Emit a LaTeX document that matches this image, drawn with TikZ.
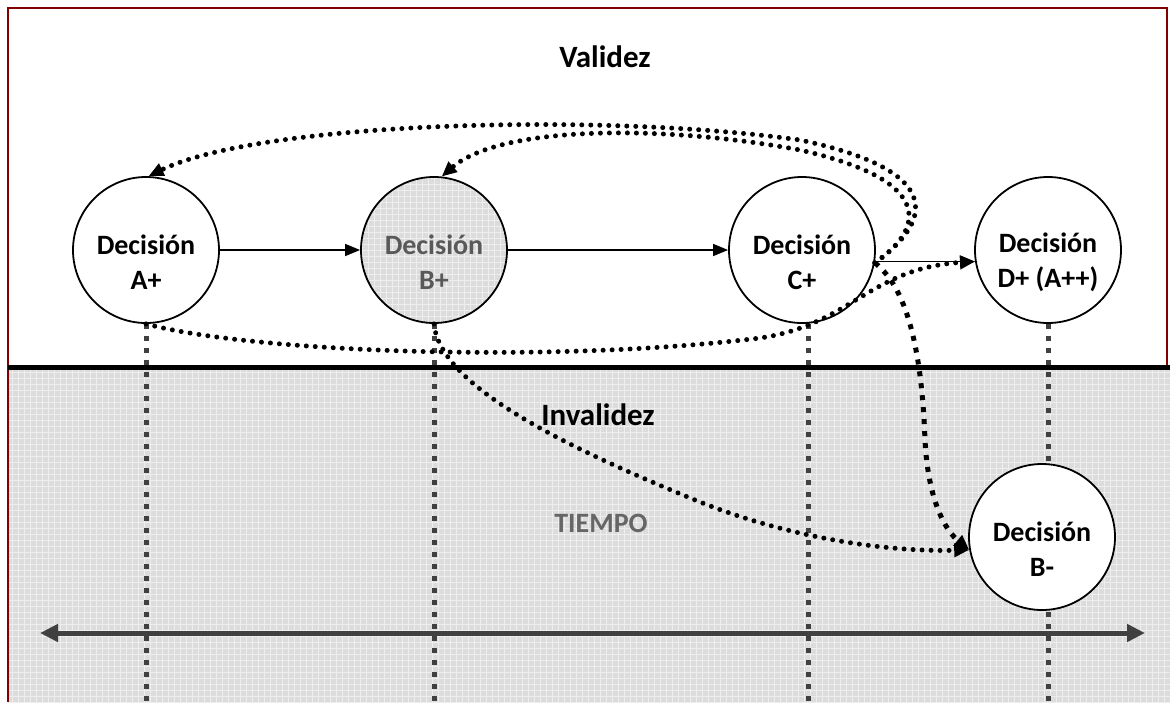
\documentclass[tikz,border=0pt]{standalone}
\usepackage{fontspec}
\setmainfont{Carlito}
\usetikzlibrary{arrows.meta}
\definecolor{framered}{RGB}{130,0,0}
\definecolor{tickgray}{RGB}{64,64,64}
\definecolor{bandgray}{RGB}{220,220,220}
\definecolor{bandline}{RGB}{238,238,238}
\tikzset{
  decision/.style={circle, draw=black, line width=1.8pt, fill=white,
    minimum size=146pt, inner sep=0pt},
  dtext/.style={font=\bfseries\fontsize{28}{35}\selectfont, align=center},
  title/.style={font=\bfseries\fontsize{31}{36}\selectfont},
  timeline/.style={draw=tickgray, line width=5pt, dash pattern=on 5pt off 7pt},
  flow/.style={line width=1.5pt, -{Triangle[length=15pt,width=12pt]}},
  dotarrow/.style={line width=5pt, line cap=round, dash pattern=on 0pt off 9pt,
    -{Triangle[length=15pt,width=13pt]}},
  squarearrow/.style={line width=5pt, dash pattern=on 5pt off 7pt,
    -{Triangle[length=15pt,width=13pt]}},
  texture/.style={draw=bandline, line width=1pt},
}
\begin{document}
\begin{tikzpicture}[x=1pt, y=-1pt]
\useasboundingbox (0,0) rectangle (1170,702);
\fill[white] (0,0) rectangle (1170,702);

% lower band: fine grey grid
\fill[bandgray] (8,369) rectangle (1170,702);
\draw[texture, step=6pt] (8,369) grid (1170,702);

% frame and separator
\draw[framered, line width=2.6pt] (8,702) -- (8,8) -- (1167,8) -- (1167,367);
\draw[black, line width=5pt] (8,367) -- (1170,367);

% decisions
\node[decision] (a) at (146,250) {};
\node[decision, fill=bandgray,
  path picture={\draw[texture, step=6pt] (path picture bounding box.south west) grid (path picture bounding box.north east);}]
  (b) at (434,250) {};
\node[decision] (c) at (802,250) {};
\node[decision] (d) at (1048,250) {};
\coordinate (bottom) at (0,702);

% time markers under each decision
\draw[timeline] (a.south) -- (a.south |- bottom);
\draw[timeline] (b.south) -- (b.south |- bottom);
\draw[timeline] ([xshift=6pt]c.south) -- ([xshift=6pt]c.south |- bottom);
\draw[timeline] (d.south) -- (d.south |- bottom);

\node[decision] (bm) at (1042,537) {};

% labels inside the circles
\node[dtext] (ta) at (146,262) {Decisión\\A+};
\node[dtext, text=black!65] (tb) at (434,262) {Decisión\\B+};
\node[dtext] (tc) at (802,262) {Decisión\\C+};
\node[dtext] (td) at (1048,262) {Decisión\\D+ (A++)};
\node[dtext] (tbm) at (1042,549) {Decisión\\B-};

% region titles
\node[title] (valid) at (605,57) {Validez};
\node[title] (invalid) at (598,415) {Invalidez};
\node[dtext, text=black!60] (time) at (601,523) {TIEMPO};

% time axis
\coordinate (tl) at (40,633);
\coordinate (tr) at (1145,633);
\draw[tickgray, line width=5pt, {Triangle[length=18pt,width=17pt]}-{Triangle[length=18pt,width=17pt]}] (tl) -- (tr);

% sequence of decisions
\draw[flow] (a) -- (b);
\draw[flow] (b) -- (c);
\draw[flow] (c.-9) -- (d.189);

% feedback loops
\draw[dotarrow] (c.-10) .. controls (928,225) and (952,172) .. (800,140)
  .. controls (600,112) and (260,122) .. (a.88);
\draw[dotarrow] (c.-10) .. controls (920,232) and (942,182) .. (800,150)
  .. controls (660,124) and (500,126) .. (b.84);
\draw[dotarrow] (a.south) .. controls (250,352) and (550,364) .. (760,338)
  .. controls (850,325) and (870,268) .. (d.189);
\draw[dotarrow] (b.south) .. controls (440,385) and (560,445) .. (700,502)
  .. controls (800,542) and (900,552) .. (bm.190);
\draw[squarearrow] (c.-10) .. controls (910,290) and (922,360) .. (925,440)
  .. controls (928,500) and (945,530) .. (bm.190);
\end{tikzpicture}
\end{document}
